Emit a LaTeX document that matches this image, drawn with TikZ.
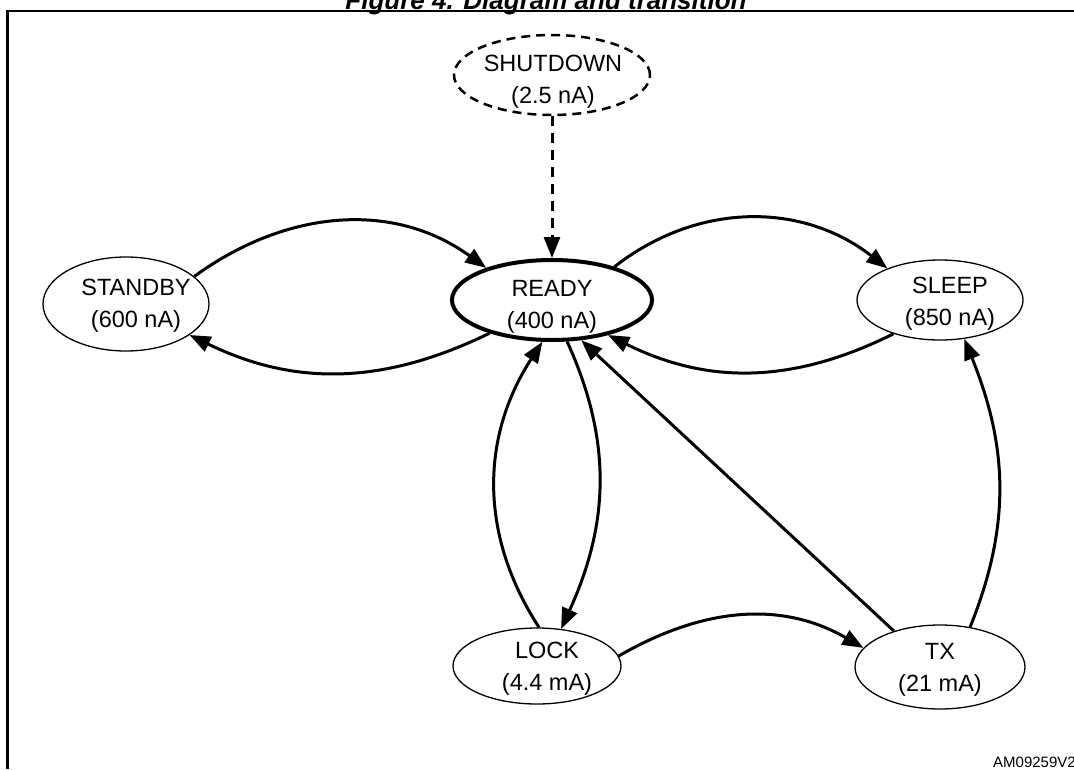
\documentclass[tikz,border=0pt]{standalone}
\usepackage{fontspec}
\setmainfont{Liberation Sans}
\usetikzlibrary{shapes.geometric,arrows.meta}
\begin{document}
\begin{tikzpicture}[x=1pt,y=-1pt,
  st/.style={ellipse, draw, line width=1.3pt, inner sep=0pt},
  txt/.style={inner sep=0pt, align=center, font=\fontsize{23.5}{32}\selectfont},
  tr/.style={line width=3pt, -{Triangle[length=21pt,width=16pt]}},
]
\useasboundingbox (0,0) rectangle (1074,769);
\node[anchor=base, inner sep=0pt, font=\fontsize{26}{30}\selectfont\bfseries\itshape] (title) at (546,9) {Figure 4. Diagram and transition};
\draw[line width=2.5pt] (7.5,769) -- (7.5,11) -- (1074,11);

\node[st, line width=2.5pt, dash pattern=on 9pt off 6pt, minimum width=196pt, minimum height=80pt] (shutdown) at (552,75) {};
\node[st, line width=4pt, minimum width=200pt, minimum height=80pt] (ready) at (552,300) {};
\node[st, minimum width=166pt, minimum height=94pt] (standby) at (126,304) {};
\node[st, minimum width=166pt, minimum height=80pt] (sleep) at (940,300) {};
\node[st, minimum width=168pt, minimum height=76pt] (lock) at (537,666) {};
\node[st, minimum width=170pt, minimum height=84pt] (tx) at (940,667) {};

\node[txt] (shutdownt) at (553,82) {SHUTDOWN\\(2.5 nA)};
\node[txt] (readyt) at (552,306.5) {READY\\(400 nA)};
\node[txt] (standbyt) at (136,305.5) {STANDBY\\(600 nA)};
\node[txt] (sleept) at (950,304) {SLEEP\\(850 nA)};
\node[txt] (lockt) at (547,669) {LOCK\\(4.4 mA)};
\node[txt] (txt) at (940,670) {TX\\(21 mA)};

\node[anchor=base west, inner sep=0pt, font=\fontsize{15}{18}\selectfont] (code) at (993,767) {AM09259V2};

\draw[tr] (standby.22) to[out=36,in=144] (ready.154);
\draw[tr] (ready.208) to[out=206,in=-26] (standby.-26);
\draw[tr] (ready.28) to[out=38,in=142] (sleep.149);
\draw[tr] (sleep.216) to[out=206.5,in=-26.5] (ready.-32);
\draw[tr] (lock.87) to[out=123,in=237] (ready.-103);
\draw[tr] (ready.-70) to[out=-65.5,in=65.5] (lock.57);
\draw[tr] (tx.142) -- (ready.-54);
\draw[tr] (tx.53) to[out=68,in=-68] (sleep.-58);
\draw[tr] (lock.7) to[out=30,in=150] (tx.166);
\draw[tr, dash pattern=on 10pt off 7pt] (shutdown) -- (ready);
\end{tikzpicture}
\end{document}
